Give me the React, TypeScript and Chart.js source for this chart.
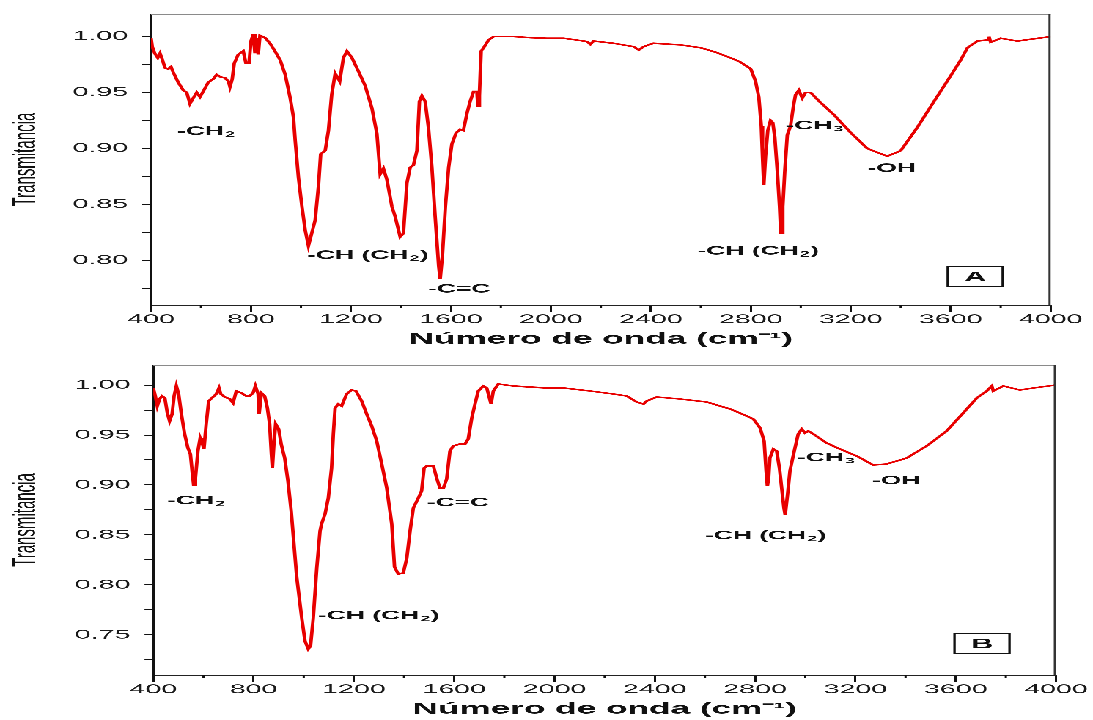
import React, { useEffect, useRef } from 'react';
import { Chart, registerables } from 'chart.js';

Chart.register(...registerables);

// ---------------- data ----------------
const wavenumberA = [
  400, 405, 415, 427, 436, 443, 456, 469, 480, 489, 509, 529, 543, 556, 569, 583, 596, 609, 629, 649,
  663, 676, 696, 710, 716, 725, 733, 749, 769, 780, 792, 800, 809, 816, 823, 829, 836, 856, 876, 896,
  917, 937, 957, 970, 977, 990, 1004, 1017, 1030, 1043, 1057, 1070, 1079, 1097, 1110, 1123, 1137, 1155,
  1170, 1184, 1204, 1230, 1257, 1284, 1304, 1317, 1330, 1344, 1364, 1377, 1397, 1410, 1424, 1437, 1450,
  1464, 1474, 1484, 1497, 1510, 1524, 1537, 1551, 1557, 1566, 1578, 1591, 1604, 1621, 1637, 1650, 1664,
  1677, 1691, 1704, 1708, 1714, 1721, 1731, 1751, 1771, 1851, 1920, 1984, 2051, 2100, 2144, 2158, 2171,
  2251, 2331, 2352, 2371, 2411, 2518, 2599, 2660, 2719, 2760, 2800, 2819, 2832, 2842, 2847, 2852, 2859,
  2868, 2879, 2888, 2896, 2906, 2915, 2920, 2928, 2936, 2946, 2959, 2970, 2979, 2992, 3006, 3019, 3039,
  3079, 3133, 3200, 3266, 3346, 3400, 3467, 3533, 3600, 3640, 3667, 3707, 3747, 3753, 3760, 3800, 3867,
  3934, 4000,
];
const transmittanceA = [
  0.999, 0.991, 0.985, 0.981, 0.985, 0.981, 0.972, 0.971, 0.973, 0.968, 0.959, 0.952, 0.95, 0.94, 0.945,
  0.95, 0.946, 0.951, 0.959, 0.962, 0.966, 0.964, 0.963, 0.96, 0.955, 0.962, 0.976, 0.984, 0.987, 0.976,
  0.976, 0.996, 1.002, 0.985, 0.999, 0.984, 1.001, 0.999, 0.994, 0.987, 0.979, 0.966, 0.945, 0.928, 0.907,
  0.874, 0.848, 0.827, 0.813, 0.824, 0.836, 0.866, 0.895, 0.898, 0.916, 0.948, 0.967, 0.96, 0.981, 0.987,
  0.981, 0.969, 0.956, 0.936, 0.913, 0.877, 0.882, 0.872, 0.848, 0.839, 0.821, 0.824, 0.869, 0.883, 0.885,
  0.898, 0.942, 0.947, 0.942, 0.919, 0.883, 0.839, 0.795, 0.783, 0.804, 0.848, 0.883, 0.904, 0.914, 0.917,
  0.916, 0.931, 0.942, 0.951, 0.951, 0.938, 0.947, 0.987, 0.99, 0.997, 1.0, 1.0, 0.999, 0.9985, 0.9985,
  0.997, 0.9956, 0.993, 0.996, 0.994, 0.991, 0.988, 0.991, 0.994, 0.9926, 0.99, 0.986, 0.981, 0.977, 0.971,
  0.96, 0.946, 0.92, 0.892, 0.867, 0.893, 0.916, 0.925, 0.923, 0.91, 0.88, 0.848, 0.824, 0.848, 0.88, 0.912,
  0.92, 0.937, 0.948, 0.952, 0.945, 0.95, 0.95, 0.941, 0.93, 0.914, 0.9, 0.893, 0.898, 0.919, 0.942, 0.965,
  0.979, 0.99, 0.996, 0.997, 1.0, 0.995, 0.9985, 0.996, 0.998, 1.0,
];

const wavenumberB = [
  400, 408, 416, 425, 435, 446, 456, 465, 475, 483, 492, 501, 512, 525, 538, 548, 556, 561, 568, 578, 587,
  595, 602, 611, 621, 638, 651, 662, 669, 685, 705, 718, 731, 751, 771, 784, 798, 807, 818, 822, 831, 844,
  855, 864, 871, 875, 881, 888, 900, 910, 924, 937, 950, 972, 992, 1005, 1018, 1027, 1038, 1052, 1065,
  1071, 1085, 1098, 1111, 1118, 1125, 1138, 1151, 1171, 1191, 1208, 1231, 1251, 1271, 1291, 1311, 1331,
  1351, 1362, 1377, 1397, 1411, 1424, 1437, 1457, 1470, 1480, 1490, 1517, 1530, 1543, 1557, 1570, 1583,
  1596, 1623, 1643, 1656, 1670, 1683, 1696, 1716, 1730, 1747, 1756, 1776, 1836, 1900, 1969, 2036, 2142,
  2235, 2288, 2328, 2355, 2368, 2408, 2501, 2607, 2700, 2739, 2793, 2820, 2836, 2844, 2849, 2854, 2859,
  2873, 2886, 2897, 2906, 2915, 2920, 2930, 2939, 2950, 2959, 2972, 2986, 2999, 3012, 3032, 3085, 3138,
  3205, 3271, 3325, 3405, 3484, 3564, 3630, 3684, 3724, 3744, 3750, 3790, 3856, 3910, 4000,
];
const transmittanceB = [
  0.997, 0.989, 0.979, 0.986, 0.989, 0.987, 0.972, 0.964, 0.971, 0.989, 0.999, 0.991, 0.971, 0.951, 0.937,
  0.931, 0.911, 0.9, 0.907, 0.934, 0.947, 0.942, 0.936, 0.961, 0.984, 0.988, 0.991, 0.997, 0.991, 0.988,
  0.986, 0.982, 0.994, 0.992, 0.989, 0.989, 0.992, 0.999, 0.991, 0.971, 0.992, 0.989, 0.977, 0.961, 0.931,
  0.917, 0.941, 0.961, 0.956, 0.941, 0.927, 0.904, 0.874, 0.808, 0.767, 0.744, 0.736, 0.739, 0.767, 0.817,
  0.854, 0.861, 0.871, 0.887, 0.917, 0.951, 0.977, 0.981, 0.979, 0.991, 0.995, 0.994, 0.984, 0.971, 0.959,
  0.944, 0.921, 0.897, 0.861, 0.818, 0.811, 0.812, 0.827, 0.854, 0.877, 0.887, 0.894, 0.917, 0.919, 0.919,
  0.907, 0.897, 0.897, 0.906, 0.934, 0.939, 0.941, 0.941, 0.946, 0.967, 0.981, 0.994, 0.999, 0.997, 0.981,
  0.994, 1.001, 0.999, 0.998, 0.997, 0.997, 0.994, 0.991, 0.989, 0.983, 0.981, 0.984, 0.988, 0.986, 0.983,
  0.976, 0.972, 0.966, 0.957, 0.944, 0.914, 0.899, 0.907, 0.927, 0.936, 0.934, 0.917, 0.897, 0.877, 0.87,
  0.892, 0.914, 0.927, 0.937, 0.951, 0.956, 0.952, 0.954, 0.951, 0.942, 0.936, 0.929, 0.92, 0.921, 0.927,
  0.939, 0.954, 0.972, 0.987, 0.994, 0.999, 0.994, 0.999, 0.995, 0.997, 1.0,
];

const xTickLabels = ['400', '800', '1200', '1600', '2000', '2400', '2800', '3200', '3600', '4000'];
const yTickLabelsA = ['0.80', '0.85', '0.90', '0.95', '1.00'];
const yTickLabelsB = ['0.75', '0.80', '0.85', '0.90', '0.95', '1.00'];

const bandTextA = ['-CH₂', '-CH (CH₂)', '-C=C', '-CH (CH₂)', '-CH₃', '-OH'];
const bandWaveA = [504, 1025, 1509, 2587, 2939, 3267];
const bandTransA = [0.915, 0.804, 0.774, 0.808, 0.92, 0.882];

const bandTextB = ['-CH₂', '-CH (CH₂)', '-C=C', '-CH (CH₂)', '-CH₃', '-OH'];
const bandWaveB = [455, 1057, 1491, 2600, 2967, 3266];
const bandTransB = [0.884, 0.769, 0.882, 0.849, 0.927, 0.904];

const panelNames = ['A', 'B'];
const panelWave = [3698, 3705];
const panelTrans = [0.7856, 0.7415];

const xTitle = 'Número de onda (cm⁻¹)';
const yTitle = 'Transmitancia';

// ---------------- layout ----------------
const INNER_W = 497;
const STRETCH = 1093 / INNER_W;
const FONT = "'Liberation Sans', Arial, Helvetica, sans-serif";

const SUBS: Record<string, string> = { '₀': '0', '₁': '1', '₂': '2', '₃': '3', '₄': '4' };

function drawRich(ctx: CanvasRenderingContext2D, text: string, x: number, y: number) {
  let cx = x;
  let run = '';
  const flush = () => {
    if (!run) return;
    ctx.font = `bold 12px ${FONT}`;
    ctx.fillText(run, cx, y);
    cx += ctx.measureText(run).width;
    run = '';
  };
  for (const ch of text) {
    if (SUBS[ch]) {
      flush();
      ctx.font = `bold 8px ${FONT}`;
      ctx.fillText(SUBS[ch], cx + 0.5, y + 3);
      cx += ctx.measureText(SUBS[ch]).width + 0.8;
    } else {
      run += ch;
    }
  }
  flush();
}

const decorPlugin = {
  id: 'decor',
  afterDraw(chart: any, _args: any, opts: any) {
    const { ctx, chartArea } = chart;
    const xs = chart.scales.x;
    const ys = chart.scales.y;
    ctx.save();
    // frame top / right
    ctx.lineWidth = 1;
    ctx.strokeStyle = '#8a8a8a';
    ctx.beginPath();
    ctx.moveTo(chartArea.left, chartArea.top + 0.5);
    ctx.lineTo(chartArea.right, chartArea.top + 0.5);
    ctx.stroke();
    ctx.strokeStyle = '#333';
    ctx.beginPath();
    ctx.moveTo(chartArea.right - 0.5, chartArea.top);
    ctx.lineTo(chartArea.right - 0.5, chartArea.bottom);
    ctx.stroke();
    // minor x ticks
    ctx.strokeStyle = '#111';
    const ticks = xs.ticks.map((t: any) => t.value);
    for (let i = 0; i < ticks.length - 1; i++) {
      const px = xs.getPixelForValue((ticks[i] + ticks[i + 1]) / 2);
      ctx.beginPath();
      ctx.moveTo(px, chartArea.bottom);
      ctx.lineTo(px, chartArea.bottom + 3);
      ctx.stroke();
    }
    // band labels
    ctx.fillStyle = '#111';
    ctx.textBaseline = 'middle';
    ctx.textAlign = 'left';
    const { texts, waves, trans } = opts;
    for (let i = 0; i < texts.length; i++) {
      drawRich(ctx, texts[i], xs.getPixelForValue(waves[i]), ys.getPixelForValue(trans[i]));
    }
    // panel box
    const bx = xs.getPixelForValue(opts.panelWave);
    const by = ys.getPixelForValue(opts.panelTrans);
    const bw = 25;
    const bh = 20;
    ctx.strokeStyle = '#111';
    ctx.lineWidth = 1.1;
    ctx.strokeRect(bx - bw / 2, by - bh / 2, bw, bh);
    ctx.textAlign = 'center';
    ctx.font = `bold 14px ${FONT}`;
    ctx.fillText(opts.panelName, bx, by + 1);
    ctx.restore();
  },
};

type PanelProps = {
  waves: number[];
  trans: number[];
  yMin: number;
  yMax: number;
  yLabels: string[];
  texts: string[];
  bandWaves: number[];
  bandTrans: number[];
  panelIndex: number;
  height: number;
  padTop: number;
  padRight: number;
  axisWidth: number;
};

function Panel(p: PanelProps) {
  const ref = useRef<HTMLCanvasElement | null>(null);
  useEffect(() => {
    if (!ref.current) return;
    const chart = new Chart(ref.current, {
      type: 'line',
      data: {
        datasets: [
          {
            data: p.waves.map((x, i) => ({ x, y: p.trans[i] })),
            borderColor: '#e80000',
            borderWidth: 1.6,
            pointRadius: 0,
            tension: 0,
            fill: false,
          },
        ],
      },
      options: {
        animation: false,
        responsive: true,
        maintainAspectRatio: false,
        devicePixelRatio: 3,
        layout: { padding: { left: 0, right: p.padRight, top: p.padTop, bottom: 0 } },
        plugins: {
          legend: { display: false },
          tooltip: { enabled: false },
          decor: {
            texts: p.texts,
            waves: p.bandWaves,
            trans: p.bandTrans,
            panelName: panelNames[p.panelIndex],
            panelWave: panelWave[p.panelIndex],
            panelTrans: panelTrans[p.panelIndex],
          },
        } as any,
        scales: {
          x: {
            type: 'linear',
            min: 400,
            max: 4000,
            afterFit: (s: any) => {
              s.height = 45;
            },
            ticks: {
              stepSize: 400,
              padding: 0,
              color: '#1a1a1a',
              font: { size: 13, family: FONT },
              maxRotation: 0,
              callback: (v: any) => {
                const s = String(Math.round(Number(v)));
                return xTickLabels.includes(s) ? s : '';
              },
            },
            grid: {
              drawOnChartArea: false,
              drawTicks: true,
              tickLength: 7,
              tickColor: '#111',
              tickWidth: 1,
            },
            border: { display: true, color: '#222', width: 1 },
            title: {
              display: true,
              text: xTitle,
              color: '#111',
              font: { size: 16, weight: 'bold', family: FONT },
              padding: { top: 0, bottom: 1 },
            },
          },
          y: {
            type: 'linear',
            min: p.yMin,
            max: p.yMax,
            afterFit: (s: any) => {
              s.width = p.axisWidth;
            },
            ticks: {
              stepSize: 0.025,
              includeBounds: false,
              padding: 6.4,
              color: '#1a1a1a',
              font: { size: 13, family: FONT },
              callback: (v: any) => {
                const s = Number(v).toFixed(2);
                return Math.abs(Number(v) * 40 - Math.round(Number(v) * 40)) < 1e-6 &&
                  Math.round(Number(v) * 40) % 2 === 0 &&
                  p.yLabels.includes(s)
                  ? s
                  : '';
              },
            },
            grid: {
              drawOnChartArea: false,
              drawTicks: true,
              tickLength: 4,
              tickColor: '#111',
              tickWidth: 1,
            },
            border: { display: true, color: '#111', width: 1 },
            title: {
              display: true,
              text: yTitle,
              color: '#111',
              font: { size: 15, family: FONT },
              padding: { top: 3, bottom: 0 },
            },
          },
        },
      } as any,
      plugins: [decorPlugin as any],
    });
    return () => chart.destroy();
  }, []);
  return (
    <div style={{ position: 'relative', width: INNER_W + 'px', height: p.height + 'px' }}>
      <canvas ref={ref} />
    </div>
  );
}

export default function App() {
  return (
    <div
      style={{
        position: 'absolute',
        left: 0,
        top: 0,
        width: INNER_W + 'px',
        height: '720px',
        transform: `scaleX(${STRETCH})`,
        transformOrigin: '0 0',
        background: '#fff',
      }}
    >
      <Panel
        waves={wavenumberA}
        trans={transmittanceA}
        yMin={0.76}
        yMax={1.02}
        yLabels={yTickLabelsA}
        texts={bandTextA}
        bandWaves={bandWaveA}
        bandTrans={bandTransA}
        panelIndex={0}
        height={350}
        padTop={13}
        padRight={INNER_W - 1050.7 / STRETCH}
        axisWidth={151 / STRETCH}
      />
      <Panel
        waves={wavenumberB}
        trans={transmittanceB}
        yMin={0.71}
        yMax={1.02}
        yLabels={yTickLabelsB}
        texts={bandTextB}
        bandWaves={bandWaveB}
        bandTrans={bandTransB}
        panelIndex={1}
        height={370}
        padTop={15}
        padRight={INNER_W - 1056 / STRETCH}
        axisWidth={153.3 / STRETCH}
      />
    </div>
  );
}
